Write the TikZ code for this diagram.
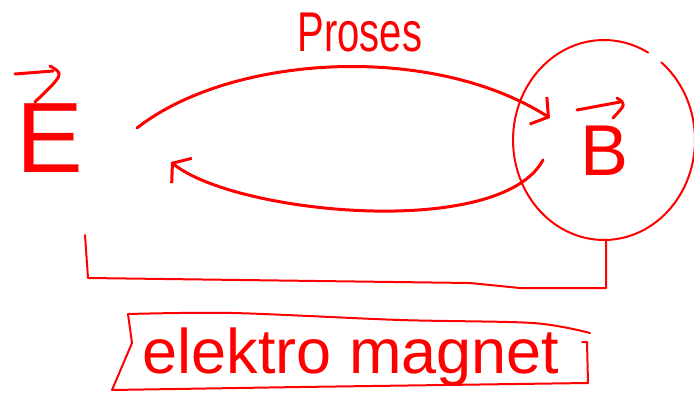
\documentclass[tikz,border=0pt]{standalone}
\usepackage{fontspec}
\setmainfont{Liberation Sans}
\usetikzlibrary{arrows.meta}
\definecolor{ink}{RGB}{255,0,0}
\begin{document}
\begin{tikzpicture}[x=1pt,y=-1pt,
  pen/.style={draw=ink, line width=3pt, line cap=round, line join=round},
  thinpen/.style={draw=ink, line width=2pt, line cap=round, line join=round},
  lbl/.style={text=ink, inner sep=0pt},
  barb/.style={-{Straight Barb[length=12pt,width=32pt]}}]
\useasboundingbox (0,0) rectangle (694,402);
% labels
\node[lbl, font=\fontsize{100}{100}\selectfont] (E) at (50,138) {E};
\node[lbl, font=\fontsize{72}{72}\selectfont] (B) at (605,151) {B};
\node[lbl, font=\fontsize{40}{40}\selectfont] (proses) at (360,33) {\scalebox{1}[1.4]{Proses}};
\node[lbl, font=\fontsize{63}{63}\selectfont, anchor=base] (em) at (351,373) {elektro magnet};
% vector arrows
\draw[pen] (15,74) -- (53,71);
\draw[pen] (50,66) .. controls (64,74) .. (35,102);
\draw[pen] (577,110) -- (620,102);
\draw[pen] (617,98) .. controls (626,104) .. (613,118);
% circle around B (open at top right)
\draw[thinpen] plot[domain=61:411, samples=90] ({604+91*cos(\x)}, {140-100*sin(\x)});
% process arcs
\coordinate (a1) at (137,128);
\coordinate (a2) at (550,118);
\coordinate (b1) at (543,160);
\coordinate (b2) at (171,162);
\draw[pen, barb] (a1) .. controls (230,55) and (430,42) .. (a2);
\draw[pen, barb] (b1) .. controls (500,240) and (235,214) .. (b2);
% connector from circle to E
\coordinate (cb) at (606,240);
\coordinate (ce) at (85,235);
\draw[thinpen] (cb) -- (606,288) -- (520,288) -- (470,283) -- (88,278) -- (ce);
% box around text
\draw[thinpen] plot[smooth] coordinates {(590,333) (533,323) (400,320) (233,313) (128,314)};
\draw[thinpen] (128,314) -- (132,343) -- (112,390) -- (300,387) -- (588,383) -- (587,342) -- (582,342);
\end{tikzpicture}
\end{document}
